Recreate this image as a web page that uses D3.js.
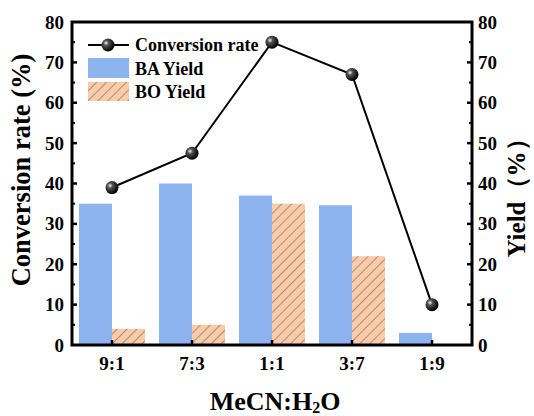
<!DOCTYPE html>
<html>
<head>
<meta charset="utf-8">
<script src="https://cdn.jsdelivr.net/npm/d3@7"></script>
<style>
  html, body { margin: 0; padding: 0; background: #fff; }
  svg text { font-family: "Liberation Serif", "DejaVu Serif", serif !important; font-weight: bold; }
</style>
</head>
<body>
<svg id="chart" width="534" height="416"></svg>
<script>
// data
const categories = ['9:1', '7:3', '1:1', '3:7', '1:9'];
const conversion = [39, 47.5, 75, 67, 10];
const baYield    = [35, 40, 37, 34.6, 3];
const boYield    = [4, 5, 35, 22, 0];
const yTicks     = [0, 10, 20, 30, 40, 50, 60, 70, 80];

const W = 534, H = 416;
const m = { left: 72, right: 62, top: 22, bottom: 71 };
const svg = d3.select('#chart');

const x = d3.scaleBand().domain(categories).range([m.left, W - m.right]);
const sub = d3.scaleBand().domain(['BA', 'BO']).range([-33, 33]);
const y = d3.scaleLinear().domain([0, 80]).range([H - m.bottom, m.top]);
const y2 = d3.scaleLinear().domain([0, 80]).range([H - m.bottom, m.top]);
const cx = c => x(c) + x.bandwidth() / 2;

// defs: hatch + sphere gradient
const defs = svg.append('defs');
const pat = defs.append('pattern')
  .attr('id', 'hatch').attr('patternUnits', 'userSpaceOnUse')
  .attr('width', 7).attr('height', 7)
  .attr('patternTransform', 'rotate(45)');
pat.append('rect').attr('width', 7).attr('height', 7).attr('fill', '#f9cba9');
pat.append('line').attr('x1', 0).attr('y1', 0).attr('x2', 0).attr('y2', 7)
  .attr('stroke', '#6b5a50').attr('stroke-width', 1.1);

const grad = defs.append('radialGradient').attr('id', 'ball')
  .attr('cx', '35%').attr('cy', '35%').attr('r', '65%');
grad.append('stop').attr('offset', '0%').attr('stop-color', '#f4f4f4');
grad.append('stop').attr('offset', '30%').attr('stop-color', '#555');
grad.append('stop').attr('offset', '100%').attr('stop-color', '#000');

// bars
const bars = svg.append('g');
bars.selectAll('rect.ba').data(categories).enter().append('rect')
  .attr('class', 'ba')
  .attr('x', c => cx(c) + sub('BA'))
  .attr('width', sub.bandwidth())
  .attr('y', (c, i) => y2(baYield[i]))
  .attr('height', (c, i) => y2(0) - y2(baYield[i]))
  .attr('fill', '#8db4ee');
bars.selectAll('rect.bo').data(categories).enter().append('rect')
  .attr('class', 'bo')
  .attr('x', c => cx(c) + sub('BO'))
  .attr('width', sub.bandwidth())
  .attr('y', (c, i) => y2(boYield[i]))
  .attr('height', (c, i) => y2(0) - y2(boYield[i]))
  .attr('fill', 'url(#hatch)');

// axes
const left = svg.append('g').attr('transform', `translate(${m.left},0)`)
  .call(d3.axisLeft(y).tickValues(yTicks).tickSize(0).tickPadding(8));
const right = svg.append('g').attr('transform', `translate(${W - m.right},0)`)
  .call(d3.axisRight(y2).tickValues(yTicks).tickSize(0).tickPadding(6));
const bottom = svg.append('g').attr('transform', `translate(0,${H - m.bottom})`)
  .call(d3.axisBottom(x).tickSize(0).tickPadding(12));
[left, right, bottom].forEach(g => {
  g.select('.domain').remove();
  g.selectAll('text').attr('font-size', 19).attr('fill', '#000');
});

// inward ticks
const minor = d3.range(5, 80, 10);
const tk = svg.append('g').attr('stroke', '#000');
tk.selectAll('line.lmaj').data(yTicks.slice(1, -1)).enter().append('line')
  .attr('x1', m.left).attr('x2', m.left + 5).attr('y1', d => y(d)).attr('y2', d => y(d)).attr('stroke-width', 2.5);
tk.selectAll('line.lmin').data(minor).enter().append('line')
  .attr('x1', m.left).attr('x2', m.left + 3).attr('y1', d => y(d)).attr('y2', d => y(d)).attr('stroke-width', 2);
tk.selectAll('line.rmaj').data(yTicks.slice(1, -1)).enter().append('line')
  .attr('x1', W - m.right).attr('x2', W - m.right - 5).attr('y1', d => y2(d)).attr('y2', d => y2(d)).attr('stroke-width', 2.5);
tk.selectAll('line.rmin').data(minor).enter().append('line')
  .attr('x1', W - m.right).attr('x2', W - m.right - 3).attr('y1', d => y2(d)).attr('y2', d => y2(d)).attr('stroke-width', 2);
tk.selectAll('line.bmaj').data(categories).enter().append('line')
  .attr('x1', cx).attr('x2', cx).attr('y1', H - m.bottom).attr('y2', H - m.bottom - 5).attr('stroke-width', 2.5);

// frame
svg.append('rect')
  .attr('x', m.left).attr('y', m.top)
  .attr('width', W - m.left - m.right).attr('height', H - m.top - m.bottom)
  .attr('fill', 'none').attr('stroke', '#000').attr('stroke-width', 3);

// conversion line
const line = d3.line().x(d => cx(d.c)).y(d => y(d.v));
const pts = categories.map((c, i) => ({ c, v: conversion[i] }));
svg.append('path').datum(pts).attr('d', line)
  .attr('fill', 'none').attr('stroke', '#000').attr('stroke-width', 2);
svg.selectAll('circle.pt').data(pts).enter().append('circle')
  .attr('class', 'pt')
  .attr('cx', d => cx(d.c)).attr('cy', d => y(d.v)).attr('r', 6.5)
  .attr('fill', 'url(#ball)');

// legend
const lg = svg.append('g').attr('font-size', 18);
lg.append('line').attr('x1', 88).attr('x2', 129).attr('y1', 45).attr('y2', 45)
  .attr('stroke', '#000').attr('stroke-width', 2);
lg.append('circle').attr('cx', 108).attr('cy', 45).attr('r', 6.5).attr('fill', 'url(#ball)');
lg.append('text').attr('x', 135).attr('y', 51).text('Conversion rate');
lg.append('rect').attr('x', 88).attr('y', 58).attr('width', 41).attr('height', 20).attr('fill', '#8db4ee');
lg.append('text').attr('x', 135).attr('y', 75).text('BA Yield');
lg.append('rect').attr('x', 88).attr('y', 82).attr('width', 41).attr('height', 19).attr('fill', 'url(#hatch)');
lg.append('text').attr('x', 135).attr('y', 98).text('BO Yield');

// axis titles
svg.append('text')
  .attr('transform', 'translate(30,170) rotate(-90)')
  .attr('text-anchor', 'middle').attr('font-size', 26.5)
  .text('Conversion rate (%)');
svg.append('text')
  .attr('transform', 'translate(516,192) rotate(-90)')
  .attr('text-anchor', 'middle').attr('font-size', 25)
  .attr('dominant-baseline', 'central')
  .text('Yield（%）');
const xt = svg.append('text')
  .attr('x', 275).attr('y', 410)
  .attr('text-anchor', 'middle').attr('font-size', 26);
xt.append('tspan').text('MeCN:H');
xt.append('tspan').attr('font-size', 16).attr('dy', 3).text('2');
xt.append('tspan').attr('dy', -3).text('O');
</script>
</body>
</html>
